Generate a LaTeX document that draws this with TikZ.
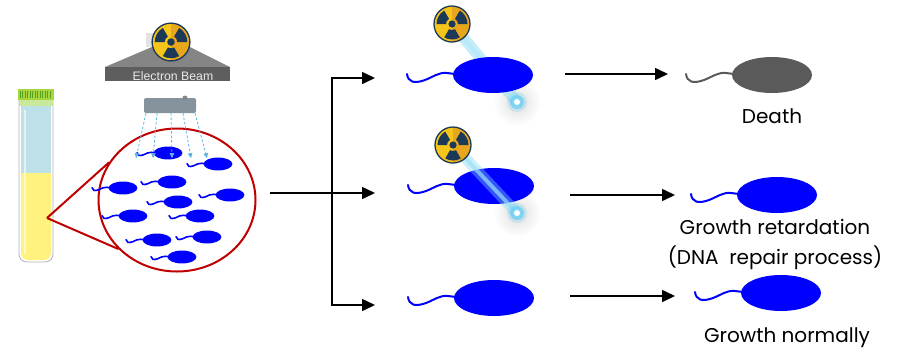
\documentclass[tikz,border=0pt]{standalone}
\usepackage{fontspec}
\setmainfont{Poppins}
\newfontfamily\beamfont{Liberation Sans}
\usepackage{tikz}
\usetikzlibrary{arrows.meta,positioning,calc,shapes.geometric}

\definecolor{bactblue}{HTML}{0000FF}
\definecolor{deadgray}{HTML}{5A5A5A}
\definecolor{zoomred}{HTML}{C00000}
\definecolor{radyellow}{HTML}{F5C51A}
\definecolor{radorange}{HTML}{E8A61C}
\definecolor{radnavy}{HTML}{1C3A58}
\definecolor{tubeyellow}{HTML}{FFF27E}
\definecolor{tubeblue}{HTML}{BEE0E8}
\definecolor{capgreen}{HTML}{A8D43E}
\definecolor{caplight}{HTML}{C8E89A}
\definecolor{headlight}{HTML}{858585}
\definecolor{headdark}{HTML}{5E5E5E}
\definecolor{emittergray}{HTML}{87939C}
\definecolor{raysky}{HTML}{5DB4E3}
\definecolor{beamcyan}{HTML}{7FD8F2}

\tikzset{
  >=Stealth,
  % bacterium: body plus wavy flagellum, centred on the body
  pics/germ/.style 2 args={code={
    \fill[#1] (0,0) ellipse [x radius=40, y radius=18];
    \draw[#1, line width=#2, line cap=round] (-86,-1) .. controls (-85,7) and (-79,9) .. (-68,5)
      .. controls (-60,2) and (-54,-3) .. (-46,-2) -- (-38,-1);
  }},
  % radiation warning sign
  pics/radsign/.style={code={
    \fill[radyellow] (0,0) circle (18);
    \fill[radorange] (90:18) arc[start angle=90, end angle=-90, radius=18] -- cycle;
    \foreach \a in {90,210,330}{
      \fill[radnavy] (\a-30:6) arc[start angle=\a-30, end angle=\a+30, radius=6]
        -- (\a+30:15.5) arc[start angle=\a+30, end angle=\a-30, radius=15.5] -- cycle;
    }
    \fill[radnavy] (0,0) circle (3.6);
    \draw[radnavy, line width=1.3pt] (0,0) circle (18);
  }},
}

\begin{document}
\begin{tikzpicture}[
  x=1pt, y=-1pt,
  flow/.style   ={-{Triangle[length=13pt,width=12pt]}, line width=1.6pt},
  ray/.style    ={-{Triangle[length=5pt,width=4.5pt]}, raysky, line width=0.8pt,
                  dash pattern=on 2.5pt off 2pt},
  lens/.style   ={ellipse, draw=zoomred, line width=2pt, fill=white, inner sep=0pt,
                  minimum width=157pt, minimum height=143pt},
  zoomline/.style={zoomred, line width=2pt},
  emitter/.style={rectangle, rounded corners=2pt, fill=emittergray, inner sep=0pt,
                  minimum width=52pt, minimum height=15pt},
  glow/.style   ={beamcyan, line width=11pt, opacity=0.45, line cap=round},
  glowcore/.style={cyan!30!white, line width=4pt, opacity=0.7, line cap=round},
  caption/.style={font=\fontsize{20}{30}\selectfont, align=center, inner sep=0pt}
]
\useasboundingbox (0,0) rectangle (902,354);

% Test tube
\fill[tubeblue] (21,104) rectangle (51,173);
\fill[tubeyellow] (21,173) [rounded corners=7pt] -- (21,260) -- (51,260) [sharp corners] -- (51,173) -- cycle;
\draw[white, line width=1.2pt, opacity=0.6] (25,110) -- (25,254);
\draw[black!30, line width=0.8pt] (19,100) [rounded corners=8pt] -- (19,262) -- (53,262) [sharp corners] -- (53,100);
\fill[caplight] (19,99) rectangle (53,106);
\fill[capgreen] (18,89) rectangle (54,100);
\foreach \x in {20,22.5,...,52}
  \draw[green!45!black, line width=0.5pt, opacity=0.5] (\x,91) -- (\x,98);
\coordinate (tubept) at (47,218);

% Magnified view of the culture
\node[lens] (lens) at (177,200) {};
\draw[zoomline] (tubept) -- (lens.151);
\draw[zoomline] (tubept) -- (lens.220);
\foreach \x/\y in {168/153, 218/164, 172/182, 123/188, 230/195, 178/202,
                   133/216, 200/216, 157/240, 207/237, 182/257}
  \pic[scale=0.36] at (\x,\y) {germ={bactblue}{1.6pt}};

% Electron beam source
\fill[gray!22] (146,33) rectangle (165,47);
\fill[headlight] (105,67) -- (152,47) -- (190,47) -- (230,67) -- cycle;
\fill[headdark] (105,67) rectangle (230,81);
\node[anchor=base, inner sep=0pt, text=white!82!gray, font=\beamfont\fontsize{12.3}{12}\selectfont]
  (beamlbl) at (173,80.5) {Electron Beam};
\pic[scale=1.05] at (171,42) {radsign};
\node[emitter] (emitter) at (170,105.5) {};
\fill[gray!55!emittergray] (185,98) circle (2.5);
\foreach \s/\d in {-24/-10, -13/-4, 1/1, 13/8, 25/12}
  \draw[ray] ([xshift=\s pt]emitter.south) -- ++(\d,45);

% Split into the three outcomes
\coordinate (src) at (270,193);
\coordinate (fork) at (332,193);
\coordinate (in1) at (375,78);
\coordinate (in2) at (375,193);
\coordinate (in3) at (375,305);
\draw[flow] (src) -- (in2);
\draw[flow] (fork) |- (in1);
\draw[flow] (fork) |- (in3);

% Middle column: irradiated / untouched cells
\coordinate (rad1) at (452,24);
\coordinate (spot1) at (517,102);
\coordinate (rad2) at (453,145);
\coordinate (spot2) at (517,213);

\shade[inner color=black!13, outer color=white] (spot1) circle (24);
\shade[inner color=black!13, outer color=white] (spot2) circle (24);
\draw[glow] (rad1) -- (spot1);
\draw[glowcore] (rad1) -- (spot1);
\pic at (493,75) {germ={bactblue}{2pt}};
\pic at (494,186) {germ={bactblue}{2pt}};
\pic at (494,298) {germ={bactblue}{2pt}};
\draw[glow, opacity=0.4] (rad2) -- (spot2);
\draw[glowcore, white!60!cyan] (rad2) -- (spot2);
\foreach \p in {spot1, spot2}{
  \fill[cyan!60, opacity=0.25] (\p) circle (10);
  \fill[cyan!70, opacity=0.5] (\p) circle (7);
  \fill[cyan!50!white] (\p) circle (5);
  \fill[white] (\p) circle (3);
}
\pic at (rad1) {radsign};
\pic at (rad2) {radsign};

% Right column: fate of the cells
\coordinate (out1) at (565,74);
\coordinate (end1) at (668,74);
\coordinate (out2) at (570,195);
\coordinate (end2) at (675,195);
\coordinate (out3) at (570,296);
\coordinate (end3) at (675,296);
\foreach \i in {1,2,3}
  \draw[flow] (out\i) -- (end\i);

\pic at (772,75) {germ={deadgray}{2pt}};
\pic at (777,195) {germ={bactblue}{2pt}};
\pic at (781,293) {germ={bactblue}{2pt}};

\node[caption] (deathlbl) at (772,116) {Death};
\node[caption] (retardlbl) at (775,244) {Growth retardation\\(DNA~ repair process)};
\node[caption] (normallbl) at (787,338) {Growth normally};

\end{tikzpicture}
\end{document}
